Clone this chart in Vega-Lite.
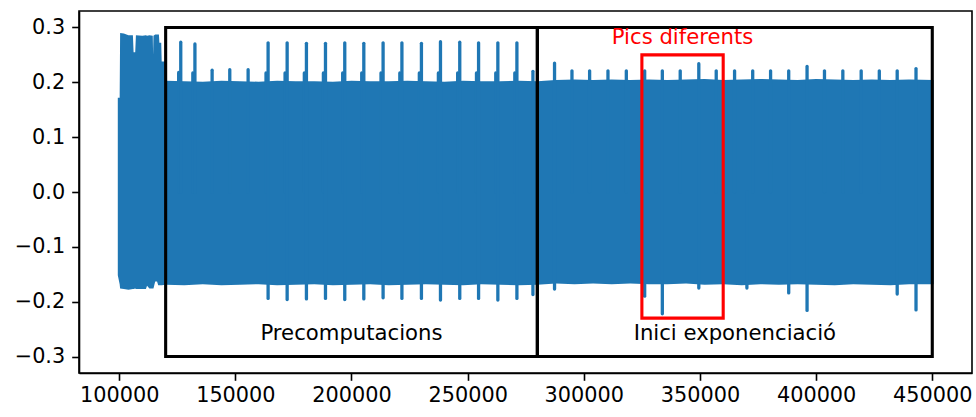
{
  "$schema": "https://vega.github.io/schema/vega-lite/v6.json",
  "width": 893,
  "height": 362,
  "autosize": {"type": "none"},
  "padding": {"left": 79, "top": 11, "right": 4, "bottom": 44},
  "background": "white",
  "config": {
    "view": {"stroke": "black", "strokeWidth": 1.6},
    "axis": {
      "grid": false,
      "labelFont": "DejaVu Sans",
      "labelFontSize": 20.8,
      "labelColor": "black",
      "tickColor": "black",
      "tickWidth": 1.6,
      "tickSize": 7.3,
      "domainColor": "black",
      "domainWidth": 1.6,
      "labelFlush": false,
      "labelOverlap": false,
      "title": null
    }
  },
  "encoding": {
    "x": {
      "field": "x",
      "type": "quantitative",
      "scale": {"domain": [82700, 467100], "nice": false, "zero": false},
      "axis": {"values": [100000, 150000, 200000, 250000, 300000, 350000, 400000, 450000], "format": "d", "labelPadding": 5}
    },
    "y": {
      "field": "y",
      "type": "quantitative",
      "scale": {"domain": [-0.33, 0.33], "nice": false, "zero": false},
      "axis": {"values": [-0.3, -0.2, -0.1, 0, 0.1, 0.2, 0.3], "format": ".1f", "labelPadding": 7}
    }
  },
  "layer": [
    {
      "data": {"values": [
        {"x": 99400, "y": 0.172, "y2": -0.152},
        {"x": 100200, "y": 0.172, "y2": -0.168},
        {"x": 100400, "y": 0.290, "y2": -0.176},
        {"x": 102000, "y": 0.289, "y2": -0.177},
        {"x": 104000, "y": 0.286, "y2": -0.178},
        {"x": 105900, "y": 0.286, "y2": -0.177},
        {"x": 106200, "y": 0.255, "y2": -0.177},
        {"x": 106900, "y": 0.255, "y2": -0.176},
        {"x": 107200, "y": 0.286, "y2": -0.177},
        {"x": 110000, "y": 0.285, "y2": -0.177},
        {"x": 111500, "y": 0.286, "y2": -0.177},
        {"x": 112000, "y": 0.285, "y2": -0.171},
        {"x": 113000, "y": 0.286, "y2": -0.176},
        {"x": 114450, "y": 0.285, "y2": -0.176},
        {"x": 114600, "y": 0.250, "y2": -0.176},
        {"x": 114750, "y": 0.285, "y2": -0.176},
        {"x": 115500, "y": 0.287, "y2": -0.163},
        {"x": 116300, "y": 0.287, "y2": -0.163},
        {"x": 116800, "y": 0.287, "y2": -0.170},
        {"x": 117100, "y": 0.287, "y2": -0.170},
        {"x": 117300, "y": 0.272, "y2": -0.170},
        {"x": 118100, "y": 0.272, "y2": -0.170},
        {"x": 118300, "y": 0.238, "y2": -0.170},
        {"x": 119900, "y": 0.238, "y2": -0.169},
        {"x": 120100, "y": 0.203, "y2": -0.169},
        {"x": 128000, "y": 0.202, "y2": -0.170},
        {"x": 136000, "y": 0.201, "y2": -0.168},
        {"x": 144000, "y": 0.203, "y2": -0.170},
        {"x": 152000, "y": 0.202, "y2": -0.169},
        {"x": 160000, "y": 0.201, "y2": -0.168},
        {"x": 168000, "y": 0.203, "y2": -0.170},
        {"x": 176000, "y": 0.202, "y2": -0.169},
        {"x": 184000, "y": 0.202, "y2": -0.168},
        {"x": 192000, "y": 0.201, "y2": -0.170},
        {"x": 200000, "y": 0.203, "y2": -0.169},
        {"x": 208000, "y": 0.202, "y2": -0.168},
        {"x": 216000, "y": 0.202, "y2": -0.170},
        {"x": 224000, "y": 0.203, "y2": -0.169},
        {"x": 232000, "y": 0.202, "y2": -0.168},
        {"x": 240000, "y": 0.201, "y2": -0.169},
        {"x": 248000, "y": 0.203, "y2": -0.170},
        {"x": 256000, "y": 0.202, "y2": -0.168},
        {"x": 264000, "y": 0.202, "y2": -0.169},
        {"x": 272000, "y": 0.203, "y2": -0.170},
        {"x": 280000, "y": 0.202, "y2": -0.169},
        {"x": 288000, "y": 0.204, "y2": -0.167},
        {"x": 296000, "y": 0.205, "y2": -0.168},
        {"x": 304000, "y": 0.204, "y2": -0.167},
        {"x": 312000, "y": 0.205, "y2": -0.168},
        {"x": 320000, "y": 0.204, "y2": -0.167},
        {"x": 328000, "y": 0.205, "y2": -0.168},
        {"x": 336000, "y": 0.204, "y2": -0.168},
        {"x": 344000, "y": 0.205, "y2": -0.167},
        {"x": 352000, "y": 0.206, "y2": -0.169},
        {"x": 360000, "y": 0.204, "y2": -0.168},
        {"x": 368000, "y": 0.205, "y2": -0.170},
        {"x": 376000, "y": 0.206, "y2": -0.168},
        {"x": 384000, "y": 0.205, "y2": -0.169},
        {"x": 392000, "y": 0.204, "y2": -0.168},
        {"x": 400000, "y": 0.206, "y2": -0.169},
        {"x": 408000, "y": 0.205, "y2": -0.170},
        {"x": 416000, "y": 0.204, "y2": -0.168},
        {"x": 424000, "y": 0.205, "y2": -0.169},
        {"x": 432000, "y": 0.204, "y2": -0.170},
        {"x": 440000, "y": 0.205, "y2": -0.168},
        {"x": 450600, "y": 0.204, "y2": -0.168}
      ]},
      "mark": {"type": "area", "color": "#1f77b4", "interpolate": "linear"},
      "encoding": {"y2": {"field": "y2"}}
    },
    {
      "data": {"values": [
        {"x": 125600, "y": 0.218, "y2": 0},
        {"x": 126500, "y": 0.273, "y2": 0},
        {"x": 131700, "y": 0.217, "y2": 0},
        {"x": 132600, "y": 0.270, "y2": 0},
        {"x": 140000, "y": 0.222, "y2": 0},
        {"x": 147600, "y": 0.223, "y2": 0},
        {"x": 155500, "y": 0.223, "y2": 0},
        {"x": 163200, "y": 0.217, "y2": 0},
        {"x": 164100, "y": 0.272, "y2": -0.194},
        {"x": 171400, "y": 0.217, "y2": 0},
        {"x": 172300, "y": 0.272, "y2": -0.196},
        {"x": 179700, "y": 0.217, "y2": 0},
        {"x": 180600, "y": 0.271, "y2": -0.195},
        {"x": 187900, "y": 0.217, "y2": 0},
        {"x": 188800, "y": 0.271, "y2": -0.194},
        {"x": 196200, "y": 0.217, "y2": 0},
        {"x": 197100, "y": 0.272, "y2": -0.196},
        {"x": 204400, "y": 0.217, "y2": 0},
        {"x": 205300, "y": 0.271, "y2": -0.195},
        {"x": 212700, "y": 0.217, "y2": 0},
        {"x": 213600, "y": 0.272, "y2": -0.193},
        {"x": 220800, "y": 0.217, "y2": 0},
        {"x": 221700, "y": 0.272, "y2": -0.194},
        {"x": 229200, "y": 0.217, "y2": 0},
        {"x": 230100, "y": 0.271, "y2": -0.194},
        {"x": 237400, "y": 0.217, "y2": 0},
        {"x": 238300, "y": 0.274, "y2": -0.197},
        {"x": 245700, "y": 0.217, "y2": 0},
        {"x": 246600, "y": 0.273, "y2": -0.194},
        {"x": 253800, "y": 0.217, "y2": 0},
        {"x": 254700, "y": 0.272, "y2": -0.194},
        {"x": 262100, "y": 0.217, "y2": 0},
        {"x": 263000, "y": 0.272, "y2": -0.197},
        {"x": 270300, "y": 0.217, "y2": 0},
        {"x": 271200, "y": 0.272, "y2": -0.194},
        {"x": 278100, "y": 0.220, "y2": -0.187},
        {"x": 287400, "y": 0.235, "y2": -0.177},
        {"x": 294900, "y": 0.221, "y2": 0},
        {"x": 302500, "y": 0.221, "y2": 0},
        {"x": 310400, "y": 0.221, "y2": 0},
        {"x": 318300, "y": 0.221, "y2": 0},
        {"x": 326200, "y": 0.221, "y2": -0.190},
        {"x": 333800, "y": 0.221, "y2": -0.222},
        {"x": 341500, "y": 0.221, "y2": 0},
        {"x": 349500, "y": 0.234, "y2": -0.175},
        {"x": 357000, "y": 0.221, "y2": 0},
        {"x": 364900, "y": 0.221, "y2": 0},
        {"x": 370200, "y": 0, "y2": -0.175},
        {"x": 372700, "y": 0.221, "y2": 0},
        {"x": 380400, "y": 0.221, "y2": 0},
        {"x": 388200, "y": 0.221, "y2": -0.184},
        {"x": 396100, "y": 0.229, "y2": -0.216},
        {"x": 403600, "y": 0.221, "y2": 0},
        {"x": 411500, "y": 0.221, "y2": 0},
        {"x": 419400, "y": 0.221, "y2": 0},
        {"x": 427200, "y": 0.221, "y2": 0},
        {"x": 434900, "y": 0.221, "y2": -0.186},
        {"x": 443000, "y": 0.225, "y2": -0.215}
      ]},
      "mark": {"type": "rule", "color": "#1f77b4", "strokeWidth": 3.3, "strokeCap": "round"},
      "encoding": {"y2": {"field": "y2"}}
    },
    {
      "data": {"values": [
        {"x": 120000, "x2": 280000, "y": -0.3, "y2": 0.3, "c": "black"},
        {"x": 280000, "x2": 450000, "y": -0.3, "y2": 0.3, "c": "black"},
        {"x": 325000, "x2": 360000, "y": -0.23, "y2": 0.25, "c": "#ff0000"}
      ]},
      "mark": {"type": "rect", "filled": false, "strokeWidth": 3.1},
      "encoding": {
        "x2": {"field": "x2"},
        "y2": {"field": "y2"},
        "stroke": {"field": "c", "type": "nominal", "scale": null}
      }
    },
    {
      "data": {"values": [
        {"x": 200000, "y": -0.27, "label": "Precomputacions", "c": "black"},
        {"x": 365000, "y": -0.27, "label": "Inici exponenciació", "c": "black"},
        {"x": 342500, "y": 0.27, "label": "Pics diferents", "c": "#ff0000"}
      ]},
      "mark": {"type": "text", "font": "DejaVu Sans", "fontSize": 21.2, "align": "center", "baseline": "alphabetic"},
      "encoding": {
        "text": {"field": "label"},
        "color": {"field": "c", "type": "nominal", "scale": null}
      }
    }
  ]
}
